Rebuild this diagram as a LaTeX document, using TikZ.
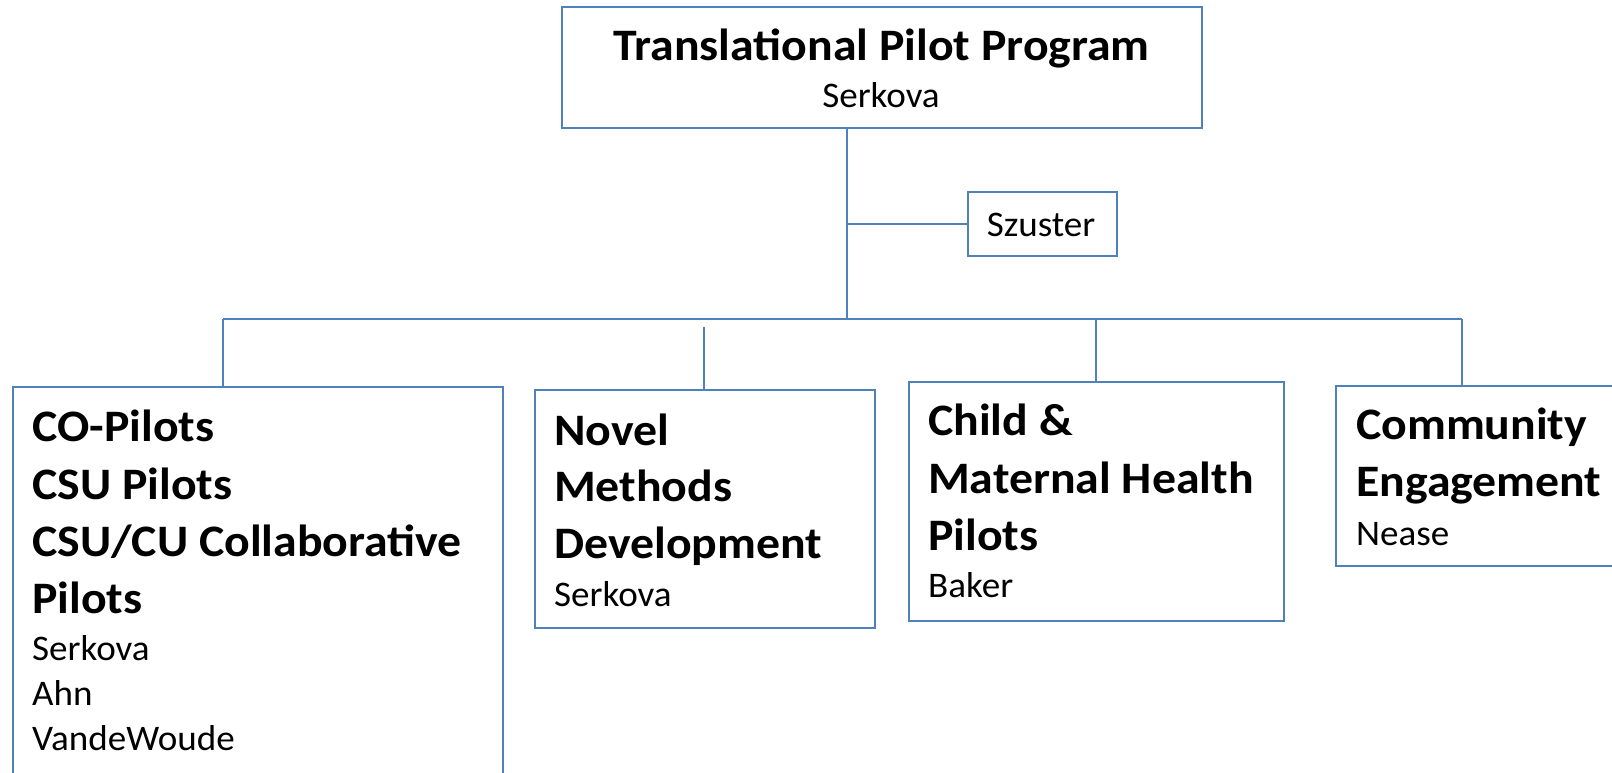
\documentclass[tikz,border=0pt]{standalone}
\usepackage{fontspec}
\setmainfont{Carlito}
\definecolor{linec}{HTML}{4F81BD}
\newcommand\bigtxt{\fontsize{45}{52}\selectfont\bfseries}
\newcommand\nrmtxt{\fontsize{36}{44}\selectfont}
\newcommand\bw[1]{\scalebox{1.062}[1]{#1}}
\newcommand\nw[1]{\scalebox{1.03}[1]{#1}}
\tikzset{
  box/.style={draw=linec, line width=2pt, rectangle, inner sep=0pt, outer sep=0pt, anchor=north west},
  conn/.style={draw=linec, line width=2pt},
  bt/.style={anchor=base west, inner sep=0pt, font=\bigtxt},
  nt/.style={anchor=base west, inner sep=0pt, font=\nrmtxt},
}
\begin{document}
\begin{tikzpicture}[x=1pt,y=-1pt]
\useasboundingbox (0,0) rectangle (1612,772);
% boxes
\node[box, minimum width=640pt, minimum height=121pt] (top) at (562,7) {};
\node[box, minimum width=148.5pt, minimum height=64.3pt] (szuster) at (968,191.7) {};
\node[box, minimum width=490.3pt, minimum height=420pt] (b1) at (12.7,386.7) {};
\node[box, minimum width=340.5pt, minimum height=238.6pt] (b2) at (534.5,389.6) {};
\node[box, minimum width=375.3pt, minimum height=239.2pt] (b3) at (909,381.5) {};
\node[box, minimum width=290pt, minimum height=180.5pt] (b4) at (1336.3,385.5) {};
% connector points
\coordinate (hub) at (847,319);
\coordinate (busL) at (223,319);
\coordinate (busR) at (1461.5,319);
\coordinate (d2) at (704,327);
\coordinate (d3) at (1096,319);
% connectors
\draw[conn] (top.south -| hub) -- (hub);
\draw[conn] (szuster.west) -- (szuster.west -| hub);
\draw[conn] (busL) -- (busR);
\draw[conn] (busL) -- (b1.north -| busL);
\draw[conn] (d2) -- (b2.north -| d2);
\draw[conn] (d3) -- (b3.north -| d3);
\draw[conn] (busR) -- (b4.north -| busR);
% texts
\node[anchor=base, inner sep=0pt, font=\bigtxt] (t1) at (881.5,60.7) {\bw{Translational Pilot Program}};
\node[anchor=base, inner sep=0pt, font=\nrmtxt] (t2) at (881,107.3) {\nw{Serkova}};
\node[anchor=base, inner sep=0pt, font=\nrmtxt] (sz) at (1041,236) {\nw{Szuster}};
% box 1
\node[bt] (a1) at (32,441.7) {\bw{CO-Pilots}};
\node[bt] (a2) at (32,499) {\bw{CSU Pilots}};
\node[bt] (a3) at (32,556) {\bw{CSU/CU Collaborative}};
\node[bt] (a4) at (32,613.3) {\bw{Pilots}};
\node[nt] (a5) at (32,660.5) {\nw{Serkova}};
\node[nt] (a6) at (32,705) {\nw{Ahn}};
\node[nt] (a7) at (32,750) {\nw{VandeWoude}};
% box 2
\node[bt] (c1) at (554,445) {\bw{Novel}};
\node[bt] (c2) at (554,501.7) {\bw{Methods}};
\node[bt] (c3) at (554,558.3) {\bw{Development}};
\node[nt] (c4) at (554,606.7) {\nw{Serkova}};
% box 3
\node[bt] (e1) at (928,435) {\bw{Child \&}};
\node[bt] (e2) at (928,493.3) {\bw{Maternal Health}};
\node[bt] (e3) at (928,550) {\bw{Pilots}};
\node[nt] (e4) at (928,597.7) {\nw{Baker}};
% box 4
\node[bt] (f1) at (1356,439.3) {\bw{Community}};
\node[bt] (f2) at (1356,496.7) {\bw{Engagement}};
\node[nt] (f3) at (1356,545) {\nw{Nease}};
\end{tikzpicture}
\end{document}
